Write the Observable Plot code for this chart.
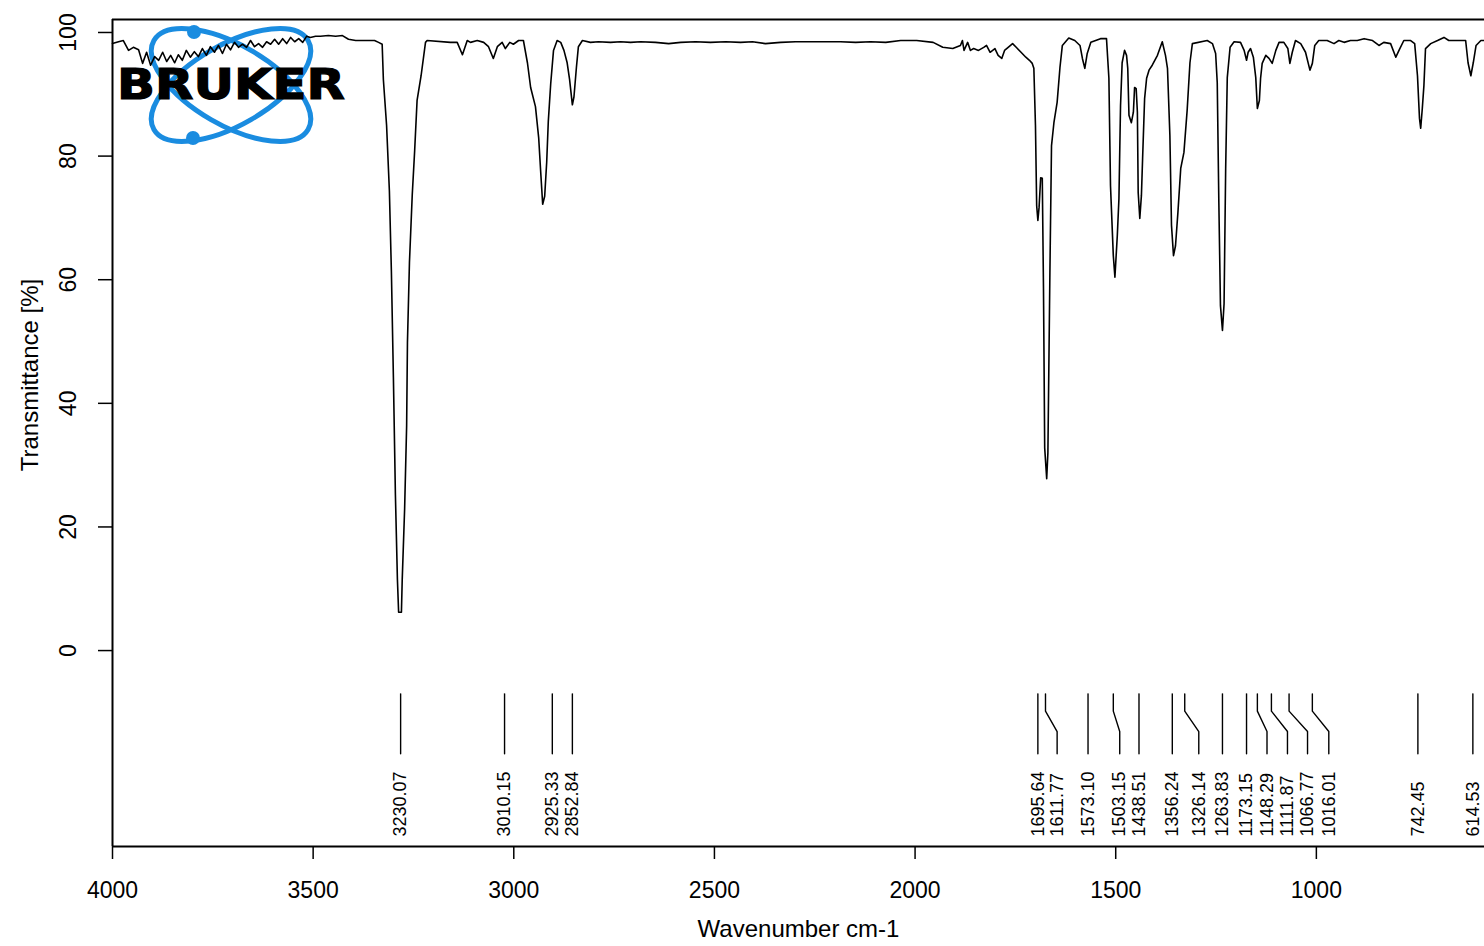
<!DOCTYPE html>
<html><head><meta charset="utf-8">
<script src="https://cdn.jsdelivr.net/npm/d3@7"></script>
<script src="https://cdn.jsdelivr.net/npm/@observablehq/plot@0.6"></script>
<style>
html,body{margin:0;padding:0;background:#fff;overflow:hidden;}
#wrap{position:relative;width:1484px;height:946px;}
#logo{position:absolute;left:0;top:0;}
#chart{position:absolute;left:0;top:0;}
</style></head><body>
<div id="wrap"><svg id="logo" width="1484" height="946"></svg><div id="chart"></div></div>
<script>
// Spectrum (wavenumber cm-1, transmittance %)
const wavenumber = [4000,3985,3973,3960,3948,3935,3925,3915,3905,3895,3885,3875,3865,3855,3845,3836,3826,3816,3806,3796,3786,3776,3766,3756,3746,3736,3726,3716,3706,3696,3686,3676,3666,3656,3646,3636,3626,3616,3606,3596,3586,3576,3566,3556,3546,3536,3526,3516,3507,3494,3482,3462,3444,3427,3412,3394,3369,3347,3337,3328,3325,3317,3310,3305,3300,3295,3290,3287,3280,3278,3272,3267,3265,3260,3253,3247,3241,3231,3220,3216,3158,3141,3128,3116,3108,3091,3075,3063,3051,3041,3029,3021,3010,3001,2988,2976,2966,2958,2946,2938,2933,2928,2923,2918,2914,2908,2901,2892,2883,2875,2867,2861,2854,2850,2844,2839,2829,2809,2789,2759,2734,2709,2684,2647,2614,2584,2547,2510,2472,2435,2405,2373,2335,2298,2260,2223,2186,2148,2111,2073,2036,1996,1955,1931,1906,1887,1882,1878,1869,1862,1854,1842,1829,1822,1813,1801,1793,1784,1777,1768,1757,1748,1736,1724,1715,1708,1704,1700,1697,1694,1691,1687,1683,1680,1677,1672,1669,1664,1660,1654,1646,1639,1633,1617,1602,1589,1583,1577,1571,1562,1538,1523,1517,1513,1506,1502,1496,1492,1488,1484,1478,1473,1470,1467,1461,1456,1453,1449,1446,1444,1440,1436,1433,1428,1423,1417,1409,1396,1384,1376,1371,1365,1361,1356,1351,1345,1338,1330,1322,1315,1309,1272,1259,1251,1247,1243,1239,1234,1230,1226,1222,1215,1205,1189,1180,1174,1170,1164,1157,1151,1147,1142,1139,1135,1126,1118,1110,1101,1093,1081,1071,1066,1060,1052,1039,1027,1016,1010,1004,994,973,956,944,931,915,898,881,860,844,832,815,802,792,782,765,755,748,743,740,736,732,728,715,698,682,670,649,628,622,615,609,602,590,581];
const transmittance = [98.2,98.5,98.7,97.1,97.6,97.2,95.0,96.8,94.7,96.1,95.5,96.8,95.3,96.3,95.1,96.4,95.5,97.1,96.0,96.9,96.1,97.4,96.3,97.7,96.8,97.9,96.6,98.1,97.2,98.4,97.6,98.1,97.6,98.7,97.7,98.2,97.6,98.5,98.1,98.9,98.1,99.0,98.2,99.2,98.5,99.0,98.4,99.4,99.2,99.4,99.4,99.5,99.4,99.5,98.9,98.7,98.7,98.7,98.4,98.1,92.4,85.0,74.4,61.3,44.2,25.2,11.5,6.2,6.2,11.5,23.0,36.4,49.8,62.8,73.8,80.9,89.0,93.0,98.4,98.7,98.4,98.4,96.4,98.7,98.4,98.7,98.4,97.7,95.8,97.7,98.4,97.4,98.4,98.1,98.7,98.7,95.1,91.1,88.0,83.0,77.5,72.2,73.5,79.0,85.6,91.7,97.1,98.7,98.4,97.1,95.1,92.4,88.3,89.6,94.3,97.7,98.7,98.4,98.5,98.4,98.5,98.4,98.5,98.4,98.2,98.4,98.5,98.4,98.5,98.4,98.5,98.2,98.4,98.5,98.5,98.5,98.5,98.4,98.5,98.4,98.7,98.7,98.4,97.6,97.4,97.9,98.7,97.1,98.4,97.1,97.4,97.1,97.6,97.9,96.8,97.4,96.3,95.8,97.1,97.6,98.2,97.6,96.8,96.0,95.5,95.0,94.2,85.0,72.0,69.6,71.7,76.5,76.4,58.6,32.8,27.8,32.0,61.2,81.7,85.4,88.7,94.3,97.9,99.1,98.7,97.9,95.8,94.2,96.6,98.4,99.0,99.0,92.6,75.2,63.9,60.4,67.2,73.1,88.2,95.1,97.1,96.3,94.2,86.6,85.4,87.1,91.1,90.9,87.1,74.1,69.9,73.6,79.6,89.3,92.6,93.9,94.7,96.3,98.5,96.3,94.2,83.3,68.8,63.9,65.5,70.9,78.0,80.6,87.4,95.1,98.2,98.7,98.2,96.6,91.9,72.5,55.8,51.8,56.1,78.0,92.7,97.6,98.5,98.4,97.1,95.5,96.8,97.4,96.0,92.7,87.7,89.0,92.6,95.0,96.3,95.8,95.0,97.1,98.4,98.4,97.4,95.0,96.8,98.7,98.2,96.8,93.9,95.0,97.9,98.7,98.7,98.2,98.7,98.4,98.7,98.7,99.0,98.7,97.9,98.4,98.2,96.0,97.4,98.7,98.7,98.2,93.0,86.1,84.5,87.7,91.4,97.4,98.2,98.7,99.2,98.7,98.7,98.7,95.1,93.0,95.1,97.9,98.7,98.7];

// Peak annotations
const peakLabels = ["3230.07","3010.15","2925.33","2852.84","1695.64","1611.77","1573.10","1503.15","1438.51","1356.24","1326.14","1263.83","1173.15","1148.29","1111.87","1066.77","1016.01","742.45","614.53"];
const peakMarkAt = [3282,3023,2904,2854,1694,1675,1569,1506,1442,1359,1328,1234,1174,1147,1112,1068,1010,747,610];
const peakLabelAt = [3282,3023,2904,2854,1694,1646,1569,1490,1442,1359,1293,1234,1174,1123,1072,1022,969,747,610];

// Axes
const xTicks = [4000,3500,3000,2500,2000,1500,1000];
const yTicks = [0,20,40,60,80,100];
const xDomain = [4000, 581];
const yDomain = [-31.7, 102.1];

const spectrum = wavenumber.map((w, i) => ({w, t: transmittance[i]}));
// marker leader: top segment at peak, slanted joint, bottom segment at label
const leaderLevels = [-7.0, -9.8, -13.1, -16.7];
const leaderRows = [];
peakLabels.forEach((lab, i) => {
  leaderRows.push({k: i, x: peakMarkAt[i], y: leaderLevels[0]});
  leaderRows.push({k: i, x: peakMarkAt[i], y: leaderLevels[1]});
  leaderRows.push({k: i, x: peakLabelAt[i], y: leaderLevels[2]});
  leaderRows.push({k: i, x: peakLabelAt[i], y: leaderLevels[3]});
});
const peaks = peakLabels.map((label, i) => ({label, at: peakLabelAt[i]}));
const labelLevel = -30.1;

const font = "'Liberation Sans', Arial, sans-serif";
const chart = Plot.plot({
  width: 1484, height: 946,
  marginLeft: 112, marginRight: 0, marginTop: 19, marginBottom: 100,
  style: {background: "transparent", fontFamily: font, color: "#000"},
  x: {domain: xDomain, label: null},
  y: {domain: yDomain, label: null},
  marks: [
    Plot.ruleY([yDomain[0], yDomain[1]], {stroke: "#000", strokeWidth: 2}),
    Plot.ruleX([xDomain[0]], {stroke: "#000", strokeWidth: 2}),
    Plot.axisX(xTicks, {tickSize: 13, tickPadding: 22, fontSize: 23, tickFormat: d => String(d), strokeWidth: 1.5}),
    Plot.axisY(yTicks, {tickSize: 14, tickFormat: () => "", strokeWidth: 1.5}),
    Plot.text(yTicks, {x: () => xDomain[0], y: d => d, text: d => String(d), rotate: -90, dx: -44, fontSize: 23}),
    Plot.text(["Transmittance [%]"], {text: d => d, frameAnchor: "left", textAnchor: "middle", dx: -82, dy: -58, rotate: -90, fontSize: 24}),
    Plot.text(["Wavenumber cm-1"], {text: d => d, frameAnchor: "bottom", dy: 90, fontSize: 24}),
    Plot.line(spectrum, {x: "w", y: "t", stroke: "#000", strokeWidth: 1.6}),
    Plot.line(leaderRows, {x: "x", y: "y", z: "k", stroke: "#000", strokeWidth: 1.4}),
    Plot.text(peaks, {x: "at", y: () => labelLevel, text: "label", rotate: -90, textAnchor: "start", fontSize: 18})
  ]
});
document.getElementById("chart").appendChild(chart);

// Bruker logo (decoration, behind the plot)
const logo = d3.select("#logo");
const g = logo.append("g").attr("transform", "translate(231,85)");
[30, -30].forEach(a => {
  g.append("ellipse").attr("rx", 89).attr("ry", 40).attr("transform", `rotate(${a})`)
    .attr("fill", "none").attr("stroke", "#1a8ce0").attr("stroke-width", 5);
});
g.append("circle").attr("cx", -37).attr("cy", -53).attr("r", 7).attr("fill", "#1a8ce0");
g.append("circle").attr("cx", -38).attr("cy", 53).attr("r", 7).attr("fill", "#1a8ce0");
logo.append("text").attr("x", 117).attr("y", 99).text("BRUKER")
  .attr("font-family", "'DejaVu Sans', sans-serif").attr("font-weight", "bold")
  .attr("font-size", 43).attr("textLength", 228).attr("lengthAdjust", "spacingAndGlyphs")
  .attr("fill", "#000").attr("stroke", "#000").attr("stroke-width", 1.2);
</script>
</body></html>
